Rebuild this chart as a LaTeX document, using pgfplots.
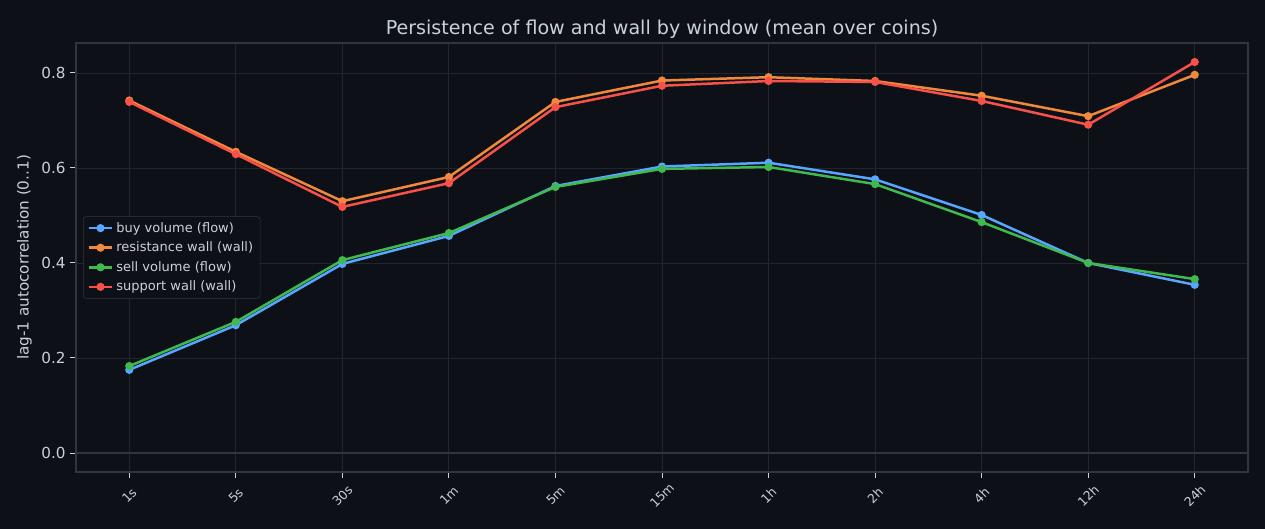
\documentclass[border=0pt]{standalone}
\usepackage{fontspec}
\setmainfont{DejaVu Sans}
\usepackage{pgfplots}
\pgfplotsset{compat=1.18}

\definecolor{bgdark}{HTML}{0D1117}
\definecolor{gridc}{HTML}{21262D}
\definecolor{framec}{HTML}{30363D}
\definecolor{txt}{HTML}{C9D1D9}
\definecolor{cblue}{HTML}{58A6FF}
\definecolor{corange}{HTML}{F0883E}
\definecolor{cgreen}{HTML}{3FB950}
\definecolor{cred}{HTML}{F85149}

\newcommand{\fs}[1]{\fontsize{#1}{#1}\selectfont}

\begin{document}
\begin{tikzpicture}
\fill[bgdark] (0,0) rectangle (12.65in,5.29in);
\useasboundingbox (0,0) rectangle (12.65in,5.29in);
\begin{axis}[
  at={(0.76in,0.57in)}, anchor=south west,
  scale only axis, width=11.72in, height=4.29in,
  xmin=-0.5, xmax=10.5, ymin=-0.04, ymax=0.863,
  axis background/.style={fill=bgdark},
  axis line style={framec, line width=0.8pt},
  xtick={0,...,10},
  xticklabels={1s,5s,30s,1m,5m,15m,1h,2h,4h,12h,24h},
  ytick={0,0.2,0.4,0.6,0.8},
  yticklabel style={/pgf/number format/fixed, /pgf/number format/fixed zerofill, /pgf/number format/precision=1},
  /pgf/number format/assume math mode=true,
  tick align=outside, tick pos=left,
  major tick length=4pt,
  tick style={txt, line width=0.7pt},
  x tick label style={anchor=center, yshift=-0.18in, rotate=45, font=\fs{9}, text=txt, inner sep=0pt},
  y tick label style={font=\fs{11}, text=txt},
  grid=major,
  major grid style={gridc, line width=0.6pt},
  title={Persistence of flow and wall by window (mean over coins)},
  title style={font=\fs{13.8}, text=txt, yshift=-6.5pt},
  ylabel={lag-1 autocorrelation (0..1)},
  ylabel style={font=\fs{11}, text=txt},
  legend cell align=left,
  legend image code/.code={
    \draw[mark repeat=2, mark phase=2] plot coordinates {(0cm,0cm) (0.3cm,0cm) (0.6cm,0cm)};},
  legend style={at={(0.006,0.5)}, anchor=west, fill=bgdark, draw=framec,
    rounded corners=2pt, text=txt, font=\fs{9.4}, row sep=1.5pt},
  every axis plot/.append style={line width=1.8pt, mark=*, mark size=2pt},
]
\draw[framec, line width=1.5pt] (axis cs:-0.5,0) -- (axis cs:10.5,0);
% buy volume (flow)
\addplot[cblue, mark options={fill=cblue}] coordinates {
 (0,0.175) (1,0.269) (2,0.398) (3,0.457) (4,0.562) (5,0.603)
 (6,0.611) (7,0.576) (8,0.501) (9,0.400) (10,0.354)};
\addlegendentry{buy volume (flow)}
% resistance wall (wall)
\addplot[corange, mark options={fill=corange}] coordinates {
 (0,0.742) (1,0.634) (2,0.530) (3,0.581) (4,0.739) (5,0.784)
 (6,0.791) (7,0.783) (8,0.752) (9,0.709) (10,0.796)};
\addlegendentry{resistance wall (wall)}
% sell volume (flow)
\addplot[cgreen, mark options={fill=cgreen}] coordinates {
 (0,0.183) (1,0.276) (2,0.406) (3,0.463) (4,0.560) (5,0.598)
 (6,0.602) (7,0.566) (8,0.486) (9,0.400) (10,0.366)};
\addlegendentry{sell volume (flow)}
% support wall (wall)
\addplot[cred, mark options={fill=cred}] coordinates {
 (0,0.739) (1,0.629) (2,0.518) (3,0.568) (4,0.728) (5,0.773)
 (6,0.783) (7,0.781) (8,0.741) (9,0.691) (10,0.823)};
\addlegendentry{support wall (wall)}
\end{axis}
\end{tikzpicture}
\end{document}
